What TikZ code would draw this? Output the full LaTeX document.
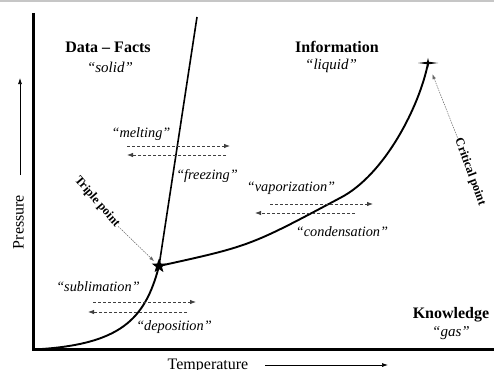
\documentclass[tikz,border=0pt]{standalone}
\usepackage{fontspec}
\setmainfont{Liberation Serif}
\usetikzlibrary{shapes.geometric,arrows.meta}
\tikzstyle{axis}=[line width=3pt]
\tikzstyle{phase}=[line width=1.9pt]
\tikzstyle{state}=[font=\fontsize{16}{18}\selectfont\bfseries, inner sep=0pt]
\tikzstyle{statenote}=[font=\fontsize{15}{18}\selectfont\itshape, inner sep=0pt]
\tikzstyle{process}=[font=\fontsize{14.3}{17}\selectfont\itshape, inner sep=0pt]
\tikzstyle{pointlabel}=[font=\fontsize{12.3}{15}\selectfont\bfseries, inner sep=1pt]
\tikzstyle{axislabel}=[font=\fontsize{16}{18}\selectfont, inner sep=0pt]
\tikzstyle{change}=[black!75, line width=0.8pt, dash pattern=on 3pt off 2pt, -{Latex[length=6pt,width=4.5pt]}]
\tikzstyle{pointer}=[black!60, line width=0.5pt, dash pattern=on 1.5pt off 1pt, -{Latex[length=5pt,width=3.5pt]}]
\tikzstyle{direction}=[line width=0.7pt, -{Latex[length=6pt,width=4pt]}]
\tikzstyle{triplestar}=[star, star points=5, star point ratio=2.4, fill, inner sep=0pt, minimum size=15pt]

\begin{document}
\begin{tikzpicture}[x=1pt, y=-1pt]
		   \useasboundingbox (0,0) rectangle (494,369);
		   \fill[gray!45] (0,0) rectangle (494,2);
		   \begin{scope}
			   \coordinate (origin) at (33.5, 349.5);
			   \coordinate (ytop) at (33.5, 13);
			   \coordinate (xend) at (494, 349.5);
			   \coordinate (meltend) at (197, 17);
			   \coordinate (crit) at (428, 63);
			   \node (triple) at (159, 266)[triplestar] {};

			   \node (data) at (108, 47)[state] {Data -- Facts};
			   \node (solid) at (110, 67)[statenote] {``solid''};
			   \node (info) at (337, 47)[state] {Information};
			   \node (liquid) at (331, 66)[statenote] {``liquid''};
			   \node (know) at (451, 315)[state] {Knowledge};
			   \node (gas) at (451, 333)[statenote] {``gas''};

			   \node (melting) at (141, 134)[process] {``melting''};
			   \node (freezing) at (207, 176)[process] {``freezing''};
			   \node (sublim) at (98, 287)[process] {``sublimation''};
			   \node (depos) at (174, 327)[process] {``deposition''};
			   \node (vapor) at (291, 188)[process] {``vaporization''};
			   \node (conden) at (342, 232)[process] {``condensation''};

			   \node (tplabel) at (97, 202)[pointlabel, rotate=-49] {Triple point};
			   \node (cplabel) at (470, 172)[pointlabel, rotate=-70] {Critical point};

			   \node (pressure) at (18.5, 222)[axislabel, rotate=90] {Pressure};
			   \node (temperature) at (208, 366)[axislabel] {Temperature};

			   \coordinate (p1) at (20, 175);
			   \coordinate (p2) at (20, 78);
			   \coordinate (t1) at (265, 365);
			   \coordinate (t2) at (388, 365);

			   \coordinate (m1) at (127, 146);
			   \coordinate (m2) at (230, 146);
			   \coordinate (f1) at (226, 155);
			   \coordinate (f2) at (127, 155);
			   \coordinate (s1) at (93, 302);
			   \coordinate (s2) at (196, 302);
			   \coordinate (d1) at (187, 312);
			   \coordinate (d2) at (88, 312);
			   \coordinate (v1) at (270, 204);
			   \coordinate (v2) at (373, 204);
			   \coordinate (c1) at (355, 213);
			   \coordinate (c2) at (255, 213);
		   \end{scope}
		   \begin{scope}
			   \draw [axis] (ytop) -- (origin) -- (xend);

			   \draw [phase] (origin) .. controls (120, 345) and (145, 320) .. (triple.center);
			   \draw [phase, line width=1.6pt] (triple.center) -- (meltend);
			   \draw [phase] (triple.center) .. controls (250, 246) .. (340, 198)
			         .. controls (385, 175) and (420, 105) .. (crit);
			   \fill (crit) ++(-10,0) -- ++(9,-1.2) -- ++(1,-4) -- ++(1,4) -- ++(9,1.2)
			         -- ++(-9,1.2) -- ++(-1,4) -- ++(-1,-4) -- cycle;

			   \path [change] (m1) edge (m2);
			   \path [change] (f1) edge (f2);
			   \path [change] (s1) edge (s2);
			   \path [change] (d1) edge (d2);
			   \path [change] (v1) edge (v2);
			   \path [change] (c1) edge (c2);

			   \path [pointer] (tplabel.east) edge [shorten >=3pt] (triple);
			   \path [pointer] (cplabel.west) edge [shorten >=12pt] (crit);

			   \path [direction] (p1) edge (p2);
			   \path [direction] (t1) edge (t2);
		   \end{scope}
	   \end{tikzpicture}
\end{document}
